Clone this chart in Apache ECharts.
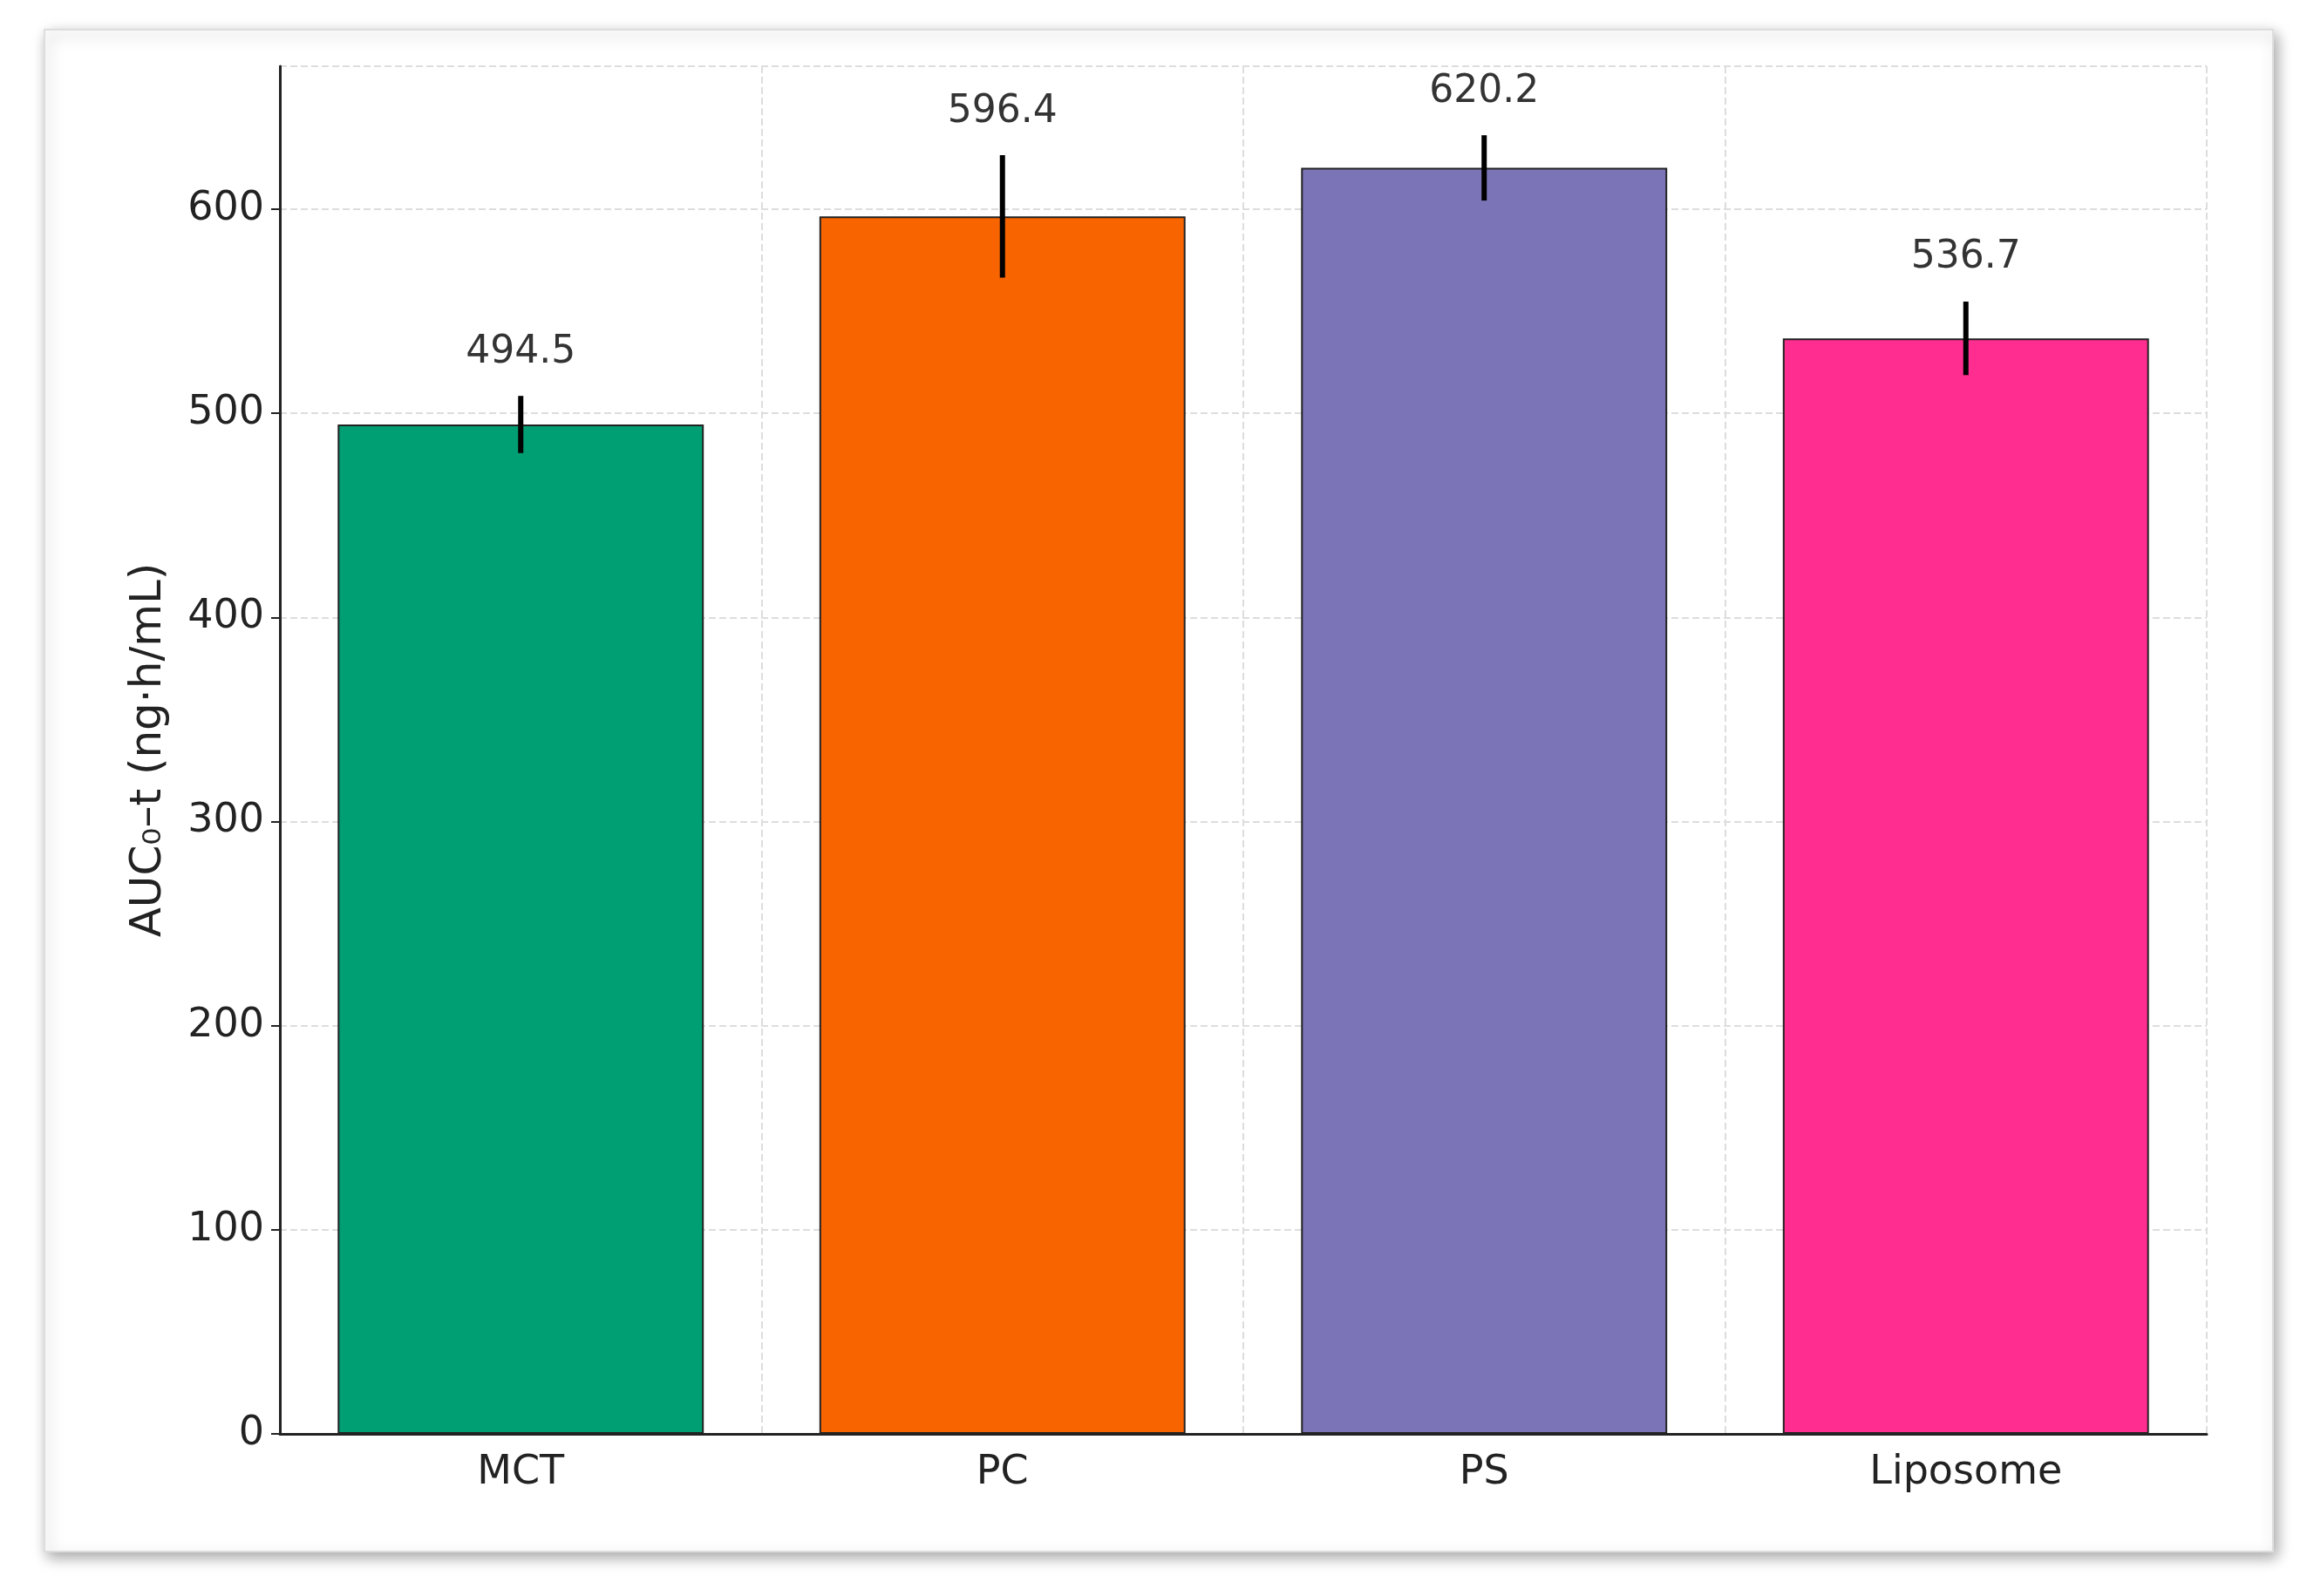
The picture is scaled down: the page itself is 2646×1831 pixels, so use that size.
<!DOCTYPE html><html><head><meta charset="utf-8"><script src="https://cdn.jsdelivr.net/npm/echarts@6/dist/echarts.min.js"></script>
<style>html,body{margin:0;background:#fff}#c{width:2646px;height:1831px}</style></head><body><div id="c"></div><script>
const categories=['MCT','PC','PS','Liposome'];
const values=[494.5,596.4,620.2,536.7];
const errors=[14,30,16,18];
const colors=['#009E73','#F86400','#7B75B7','#FF2D8F'];
const chart=echarts.init(document.getElementById('c'));
const F='DejaVu Sans';
chart.setOption({
 animation:false,
 graphic:[{type:'rect',shape:{x:51,y:34,width:2556,height:1746},style:{fill:'#fff',stroke:'#ddd',lineWidth:2,shadowBlur:16,shadowColor:'rgba(0,0,0,0.35)',shadowOffsetX:4,shadowOffsetY:6},z:-10}],
 grid:{left:321,right:115,top:76,bottom:186},
 xAxis:{type:'category',data:categories,axisLine:{lineStyle:{color:'#222',width:3}},axisTick:{show:false},
  axisLabel:{fontFamily:F,fontSize:46,color:'#222',margin:22},
  splitLine:{show:true,interval:0,lineStyle:{type:'dashed',color:'#ddd',width:2}}},
 yAxis:{type:'value',min:0,max:670,interval:100,name:'AUC₀–t (ng·h/mL)',nameLocation:'middle',nameGap:125,
  nameTextStyle:{fontFamily:F,fontSize:50,color:'#222'},
  axisLine:{show:true,lineStyle:{color:'#222',width:3}},axisTick:{show:true,length:10,lineStyle:{color:'#222',width:2}},
  axisLabel:{fontFamily:F,fontSize:46,color:'#222',margin:18,showMaxLabel:false},
  splitLine:{lineStyle:{type:'dashed',color:'#ddd',width:2}}},
 series:[{type:'bar',barCategoryGap:'24%',data:values.map((v,i)=>({value:v,itemStyle:{color:colors[i],borderColor:'#222',borderWidth:2}})),z:2},
 {type:'custom',z:3,data:values.map((v,i)=>[i,v,errors[i]]),renderItem:(p,api)=>{
   const x=api.value(0),v=api.value(1),e=api.value(2);
   const a=api.coord([x,v+e]),b=api.coord([x,v-e]),t=api.coord([x,v+e]);
   return {type:'group',children:[
    {type:'line',shape:{x1:a[0],y1:a[1],x2:b[0],y2:b[1]},style:{stroke:'#000',lineWidth:6}},
    {type:'text',x:t[0],y:t[1]-28,style:{text:v.toFixed(1),fontFamily:F,fontSize:44,fill:'#333',align:'center',verticalAlign:'bottom'}}]};
 }}]
});
</script></body></html>
